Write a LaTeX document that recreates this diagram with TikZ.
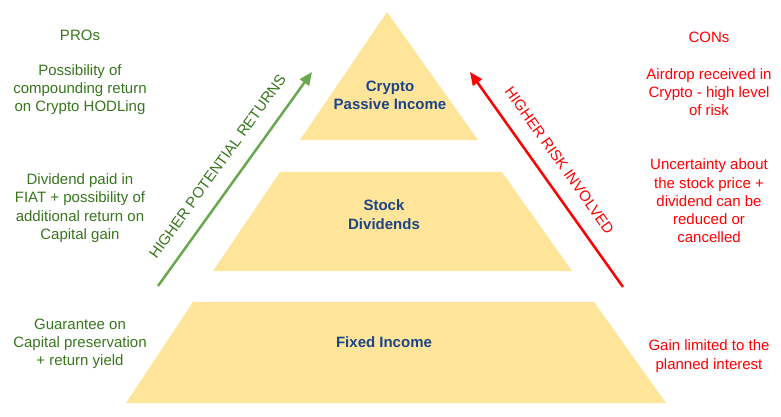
\documentclass[tikz,border=0pt]{standalone}
\usepackage{fontspec}
\setmainfont{Liberation Sans}
\usetikzlibrary{arrows.meta}
\definecolor{pyr}{RGB}{255,229,153}
\definecolor{navy}{RGB}{28,69,135}
\definecolor{prog}{RGB}{56,118,29}
\definecolor{arrg}{RGB}{106,168,79}
\definecolor{conr}{RGB}{255,0,0}
\begin{document}
\begin{tikzpicture}[x=1pt,y=-1pt,
  txt/.style={align=center, font=\fontsize{15}{18.3}\selectfont, inner sep=0pt},
  pro/.style={txt, text=prog},
  con/.style={txt, text=conr},
  tier/.style={txt, text=navy, font=\bfseries\fontsize{15}{18.3}\selectfont},
  layer/.style={fill=pyr},
  arr/.style={line width=2.5pt, -{Triangle[length=13pt,width=11pt]}},
]
\useasboundingbox (0,0) rectangle (781,416);
% pyramid
\fill[layer] (387,12) -- (478,140) -- (300,140) -- cycle;
\fill[layer] (280,172) -- (502,172) -- (572,271) -- (213,271) -- cycle;
\fill[layer] (193,302) -- (594,302) -- (666,403) -- (126,403) -- cycle;
\node[tier] (t1) at (390,95) {Crypto\\Passive Income};
\node[tier] (t2) at (384,214.5) {Stock\\Dividends};
\node[tier] (t3) at (384,342.5) {Fixed Income};
% arrows
\coordinate (g0) at (158,286);
\coordinate (g1) at (312,72);
\draw[arr, arrg] (g0) -- (g1) node[midway, sloped, above=15pt, txt, text=prog] (glab) {HIGHER POTENTIAL RETURNS};
\coordinate (r0) at (623,287);
\coordinate (r1) at (470,72);
\draw[arr, conr] (r0) -- (r1) node[pos=0.53, sloped, above=15pt, txt, text=conr] (rlab) {HIGHER RISK INVOLVED};
% PROs
\node[pro] (pros) at (80,35) {PROs};
\node[pro] (p1) at (80,89.5) {Possibility of\\compounding return\\on Crypto HODLing};
\node[pro] (p2) at (80,208) {Dividend paid in\\FIAT + possibility of\\additional return on\\Capital gain};
\node[pro] (p3) at (80,344) {Guarantee on\\Capital preservation\\+ return yield};
% CONs
\node[con] (cons) at (709,37) {CONs};
\node[con] (c1) at (709,92) {Airdrop received in\\Crypto - high level\\of risk};
\node[con] (c2) at (709,201) {Uncertainty about\\the stock price +\\dividend can be\\reduced or\\cancelled};
\node[con] (c3) at (709,356) {Gain limited to the\\planned interest};
\end{tikzpicture}
\end{document}
